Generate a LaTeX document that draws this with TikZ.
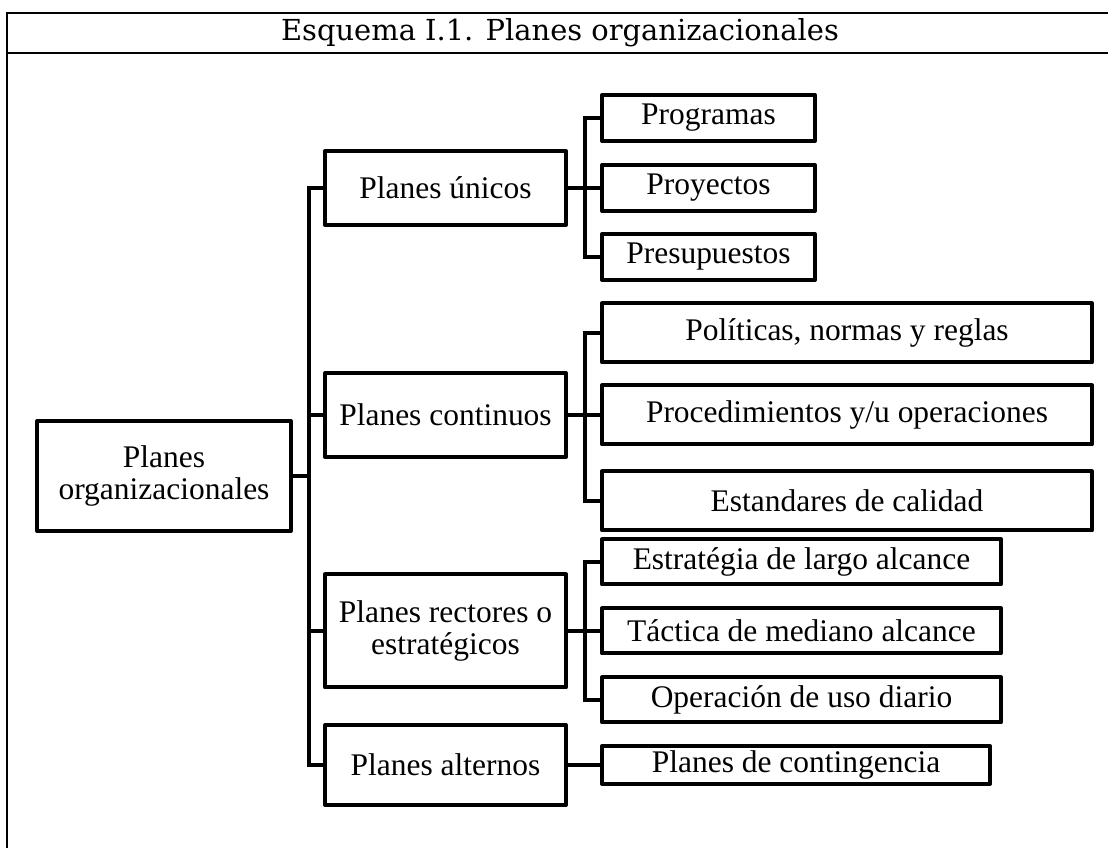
\documentclass[tikz,border=0pt]{standalone}
\usepackage{fontspec}
\setmainfont{Liberation Serif}
\newfontfamily\titlefont{DejaVu Serif}
\begin{document}
\begin{tikzpicture}[x=0.75pt,y=-0.75pt,
  frameline/.style={line width=1.5pt},
  box/.style={draw,line width=3pt,line join=round,inner sep=0pt,align=center,
    font=\fontsize{23.6}{24}\selectfont},
  dims/.style 2 args={minimum width=#1*0.75pt,minimum height=#2*0.75pt},
  conn/.style={line width=3pt}]
\useasboundingbox (0,0) rectangle (1108,848);

% outer frame and title row
\draw[frameline] (1108,13) -- (7,13) -- (7,848);
\draw[frameline] (7,53) -- (1108,53);
\node (title) at (560,33) {\titlefont\fontsize{21.7}{24}\selectfont Esquema I.1. Planes organizacionales};

% root
\node[box,dims={254}{110}] (root) at (164,476) {Planes\\organizacionales};

% first level
\node[box,dims={241}{74}]  (uni) at (445.5,188) {Planes únicos};
\node[box,dims={241}{84}]  (con) at (445.5,415) {Planes continuos};
\node[box,dims={241}{113}] (rec) at (445.5,631) {Planes rectores o\\estratégicos};
\node[box,dims={241}{80}]  (alt) at (445.5,765) {Planes alternos};

% second level: planes únicos
\node[box,dims={213}{46}] (prog) at (708.5,118) {Programas};
\node[box,dims={213}{46}] (proy) at (708.5,188) {Proyectos};
\node[box,dims={213}{46}] (pres) at (708.5,257) {Presupuestos};

% second level: planes continuos
\node[box,dims={490}{59}] (pol)  at (847,333) {Políticas, normas y reglas};
\node[box,dims={490}{59}] (proc) at (847,415) {Procedimientos y/u operaciones};
\node[box,dims={490}{59}] (est)  at (847,501) {Estandares de calidad};

% second level: planes rectores
\node[box,dims={399}{45}] (larg) at (801.5,562) {Estratégia de largo alcance};
\node[box,dims={399}{45}] (tac)  at (801.5,631) {Táctica de mediano alcance};
\node[box,dims={399}{45}] (ope)  at (801.5,700) {Operación de uso diario};

% second level: planes alternos
\node[box,dims={388}{38}] (cont) at (796,765) {Planes de contingencia};

% junction points of the brackets
\coordinate (j0) at (309,476);
\coordinate (j1) at (585,188);
\coordinate (j2) at (585,415);
\coordinate (j3) at (585,631);

% root bracket
\draw[conn] (root.east) -- (j0);
\draw[conn] (uni.west) -- (uni.west -| j0) -- (alt.west -| j0) -- (alt.west);
\draw[conn] (con.west) -- (con.west -| j0);
\draw[conn] (rec.west) -- (rec.west -| j0);

% planes únicos bracket
\draw[conn] (uni.east) -- (j1);
\draw[conn] (prog.west) -- (prog.west -| j1) -- (pres.west -| j1) -- (pres.west);
\draw[conn] (proy.west) -- (proy.west -| j1);

% planes continuos bracket
\draw[conn] (con.east) -- (j2);
\draw[conn] (pol.west) -- (pol.west -| j2) -- (est.west -| j2) -- (est.west);
\draw[conn] (proc.west) -- (proc.west -| j2);

% planes rectores bracket
\draw[conn] (rec.east) -- (j3);
\draw[conn] (larg.west) -- (larg.west -| j3) -- (ope.west -| j3) -- (ope.west);
\draw[conn] (tac.west) -- (tac.west -| j3);

% planes alternos
\draw[conn] (alt.east) -- (cont.west);
\end{tikzpicture}
\end{document}
